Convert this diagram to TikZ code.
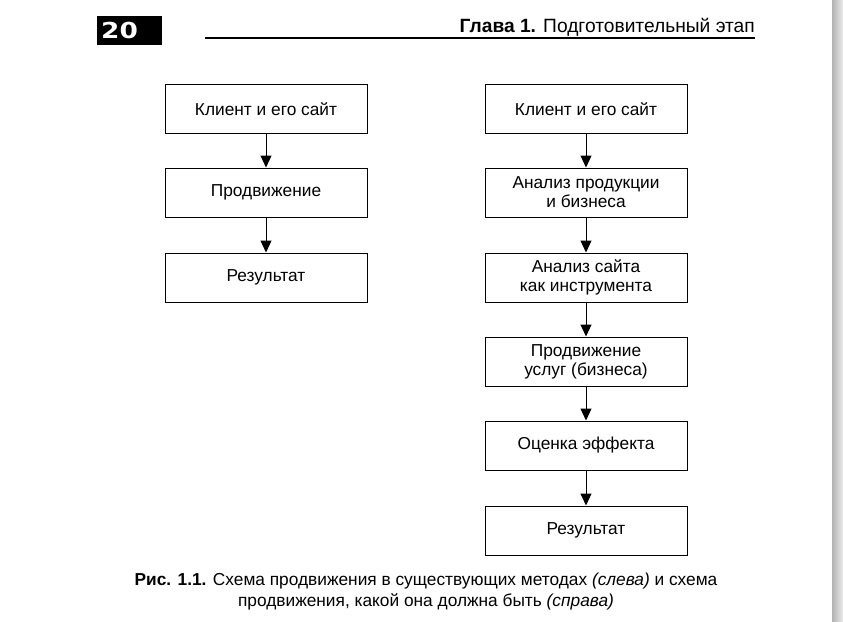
\documentclass[tikz,border=0pt]{standalone}
\usepackage{fontspec}
\setmainfont{Liberation Sans}
\newfontfamily\heavyfont{DejaVu Sans}[BoldFont={DejaVu Sans Bold}]
\usetikzlibrary{arrows.meta}
\tikzset{
  box/.style={draw, line width=1pt, minimum width=202pt, minimum height=49pt, inner sep=0pt, align=center, font=\fontsize{17.3}{19}\selectfont},
  arr/.style={line width=1pt, -{Triangle[length=12pt,width=11pt]}},
}
\begin{document}
\begin{tikzpicture}[x=1pt,y=-1pt]
\useasboundingbox (0,0) rectangle (843,621);
\fill[white] (0,0) rectangle (843,621);
\shade[left color=gray!60, right color=gray!15] (832,0) rectangle (843,621);
% header
\fill[black] (97,16) rectangle (162,45);
\node[text=white, anchor=base west, inner sep=0pt, font=\heavyfont\bfseries\fontsize{22}{22}\selectfont] (pg) at (101,38) {\scalebox{1.2}[1]{20}};
\draw[line width=2pt] (205,38) coordinate (hl) -- (755,38) coordinate (hr);
\node[anchor=base east, inner sep=0pt, font=\fontsize{19.2}{20}\selectfont] (hd) at (755,32) {\textbf{Глава 1.} Подготовительный этап};
% left column
\node[box] (l1) at (266,109) {Клиент и его сайт};
\node[box] (l2) at (266,192.5) {Продвижение};
\node[box] (l3) at (266,277.5) {Результат};
\draw[arr] (l1) -- (l2);
\draw[arr] (l2) -- (l3);
% right column
\node[box] (r1) at (586,109) {Клиент и его сайт};
\node[box] (r2) at (586,192.5) {Анализ продукции\\и бизнеса};
\node[box] (r3) at (586,277.5) {Анализ сайта\\как инструмента};
\node[box] (r4) at (586,361.5) {Продвижение\\услуг (бизнеса)};
\node[box] (r5) at (586,445.5) {Оценка эффекта};
\node[box] (r6) at (586,530.5) {Результат};
\draw[arr] (r1) -- (r2);
\draw[arr] (r2) -- (r3);
\draw[arr] (r3) -- (r4);
\draw[arr] (r4) -- (r5);
\draw[arr] (r5) -- (r6);
% caption
\node[align=center, inner sep=0pt, font=\fontsize{17.3}{21}\selectfont] (cap) at (426,592) {\textbf{Рис. 1.1.} Схема продвижения в существующих методах \textit{(слева)} и схема\\продвижения, какой она должна быть \textit{(справа)}};
\end{tikzpicture}
\end{document}
